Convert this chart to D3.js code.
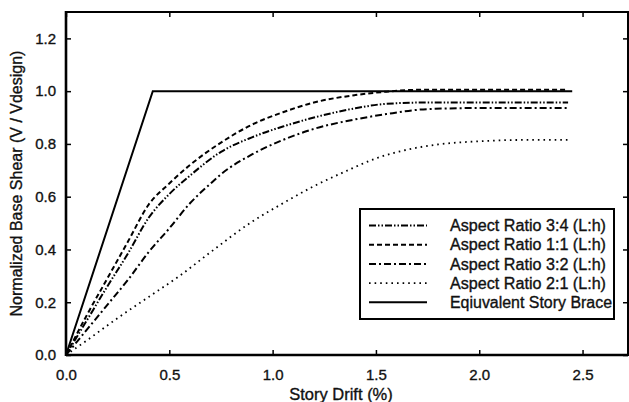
<!DOCTYPE html>
<html>
<head>
<meta charset="utf-8">
<script src="https://cdn.jsdelivr.net/npm/d3@7"></script>
<style>
  body { margin: 0; background: #fff; }
  svg { display: block; }
  text { font-family: "Liberation Sans", Arial, Helvetica, sans-serif; fill: #111; stroke: #111; stroke-width: 0.35px; }
</style>
</head>
<body>
<svg width="629" height="402"></svg>
<script>
// story drift (%) vs normalized base shear
var drift34 = [0, 0.1, 0.2, 0.3, 0.4, 0.5, 0.6, 0.75, 0.9, 1.05, 1.2, 1.4, 1.55, 1.75, 2.0, 2.43];
var shear34 = [0, 0.13, 0.26, 0.385, 0.52, 0.61, 0.68, 0.77, 0.825, 0.866, 0.9, 0.935, 0.952, 0.957, 0.957, 0.957];

var drift11 = [0, 0.1, 0.2, 0.3, 0.4, 0.5, 0.6, 0.75, 0.9, 1.05, 1.2, 1.4, 1.55, 1.7, 2.0, 2.43];
var shear11 = [0, 0.15, 0.29, 0.43, 0.57, 0.65, 0.72, 0.805, 0.873, 0.92, 0.957, 0.985, 0.998, 1.005, 1.005, 1.005];

var drift32 = [0, 0.1, 0.2, 0.3, 0.4, 0.5, 0.6, 0.7, 0.75, 0.9, 1.05, 1.2, 1.4, 1.55, 1.75, 2.0, 2.43];
var shear32 = [0, 0.095, 0.19, 0.285, 0.39, 0.48, 0.575, 0.65, 0.685, 0.76, 0.815, 0.857, 0.893, 0.913, 0.932, 0.936, 0.936];

var drift21 = [0, 0.1, 0.25, 0.4, 0.55, 0.7, 0.9, 1.05, 1.2, 1.35, 1.5, 1.65, 1.8, 2.0, 2.2, 2.43];
var shear21 = [0, 0.055, 0.14, 0.22, 0.3, 0.39, 0.505, 0.575, 0.64, 0.695, 0.745, 0.778, 0.798, 0.81, 0.815, 0.815];

var driftBrace = [0, 0.42, 2.45];
var shearBrace = [0, 1.0, 1.0];

var xTicks = [0, 0.5, 1.0, 1.5, 2.0, 2.5];
var yTicks = [0, 0.2, 0.4, 0.6, 0.8, 1.0, 1.2];

var seriesNames = ["Aspect Ratio 3:4 (L:h)", "Aspect Ratio 1:1 (L:h)", "Aspect Ratio 3:2 (L:h)",
                   "Aspect Ratio 2:1 (L:h)", "Eqiuvalent Story Brace"];

var svg = d3.select("svg"),
    plotL = 66, plotR = 628, plotT = 12, plotB = 355;

var x = d3.scaleLinear().domain([0, 2.72]).range([plotL, plotR]);
var y = d3.scaleLinear().domain([0, 1.3]).range([plotB, plotT]);

function zip(xs, ys) {
    return xs.map(function(v, i) { return [v, ys[i]]; });
}

var series = [
    { name: seriesNames[0], pts: zip(drift34, shear34), dash: "7,2,1.5,2,1.5,2", curve: d3.curveMonotoneX },
    { name: seriesNames[1], pts: zip(drift11, shear11), dash: "5,3", curve: d3.curveMonotoneX },
    { name: seriesNames[2], pts: zip(drift32, shear32), dash: "7,3,2,3", curve: d3.curveMonotoneX },
    { name: seriesNames[3], pts: zip(drift21, shear21), dash: "1.6,4", curve: d3.curveMonotoneX },
    { name: seriesNames[4], pts: zip(driftBrace, shearBrace), dash: null, curve: d3.curveLinear }
];

// frame
svg.append("rect")
    .attr("x", plotL).attr("y", plotT)
    .attr("width", plotR - plotL).attr("height", plotB - plotT)
    .attr("fill", "none").attr("stroke", "#000").attr("stroke-width", 2);

// axes (ticks point inward)
var xAxis = svg.append("g")
    .attr("transform", "translate(0," + plotB + ")")
    .call(d3.axisBottom(x).tickValues(xTicks).tickSize(-5).tickPadding(14).tickFormat(d3.format(".1f")));
var xTop = svg.append("g")
    .attr("transform", "translate(0," + plotT + ")")
    .call(d3.axisTop(x).tickValues(xTicks).tickSize(-5).tickFormat(""));
var yAxis = svg.append("g")
    .attr("transform", "translate(" + plotL + ",0)")
    .call(d3.axisLeft(y).tickValues(yTicks).tickSize(-5).tickPadding(10).tickFormat(d3.format(".1f")));
var yRight = svg.append("g")
    .attr("transform", "translate(" + plotR + ",0)")
    .call(d3.axisRight(y).tickValues(yTicks).tickSize(-5).tickFormat(""));

[xAxis, xTop, yAxis, yRight].forEach(function(a) {
    a.select(".domain").remove();
    a.selectAll(".tick line").attr("stroke", "#000").attr("stroke-width", 1.5);
    a.selectAll("text").attr("font-size", 15).attr("fill", "#111")
        .style("font-family", "'Liberation Sans', Arial, sans-serif");
});

// left and bottom edges a bit heavier
svg.append("line").attr("x1", plotL).attr("x2", plotL).attr("y1", plotT - 1).attr("y2", plotB + 1)
    .attr("stroke", "#000").attr("stroke-width", 2.6);
svg.append("line").attr("x1", plotL).attr("x2", plotR).attr("y1", plotB).attr("y2", plotB)
    .attr("stroke", "#000").attr("stroke-width", 2.6);

// curves
var line = d3.line()
    .x(function(d) { return x(d[0]); })
    .y(function(d) { return y(d[1]); });

svg.append("g").selectAll("path")
    .data(series)
    .enter().append("path")
    .attr("d", function(d) { return line.curve(d.curve)(d.pts); })
    .attr("fill", "none")
    .attr("stroke", "#000")
    .attr("stroke-width", function(d) { return d.dash === "1.6,4" ? 1.8 : 2; })
    .attr("stroke-dasharray", function(d) { return d.dash; });

// axis titles
svg.append("text")
    .attr("x", 341).attr("y", 400)
    .attr("text-anchor", "middle")
    .attr("font-size", 16.5)
    .text("Story Drift (%)");

svg.append("text")
    .attr("transform", "translate(22," + ((plotT + plotB) / 2) + ") rotate(-90)")
    .attr("text-anchor", "middle")
    .attr("font-size", 16)
    .text("Normalized Base Shear (V / Vdesign)");

// legend
var legend = svg.append("g");
legend.append("rect")
    .attr("x", 360).attr("y", 209)
    .attr("width", 254).attr("height", 110)
    .attr("fill", "#fff").attr("stroke", "#000").attr("stroke-width", 2);

var rows = legend.selectAll("g.row")
    .data(series)
    .enter().append("g")
    .attr("class", "row")
    .attr("transform", function(d, i) { return "translate(0," + (225.5 + i * 19.2) + ")"; });

rows.append("line")
    .attr("x1", 369).attr("x2", 427)
    .attr("stroke", "#000")
    .attr("stroke-width", function(d) { return d.dash === "1.6,4" ? 1.8 : 2; })
    .attr("stroke-dasharray", function(d) { return d.dash; });

rows.append("text")
    .attr("x", 450).attr("dy", "0.35em")
    .attr("font-size", 16)
    .attr("textLength", function(d, i) { return i === 4 ? 162 : 156; })
    .attr("lengthAdjust", "spacingAndGlyphs")
    .text(function(d) { return d.name; });
</script>
</body>
</html>
